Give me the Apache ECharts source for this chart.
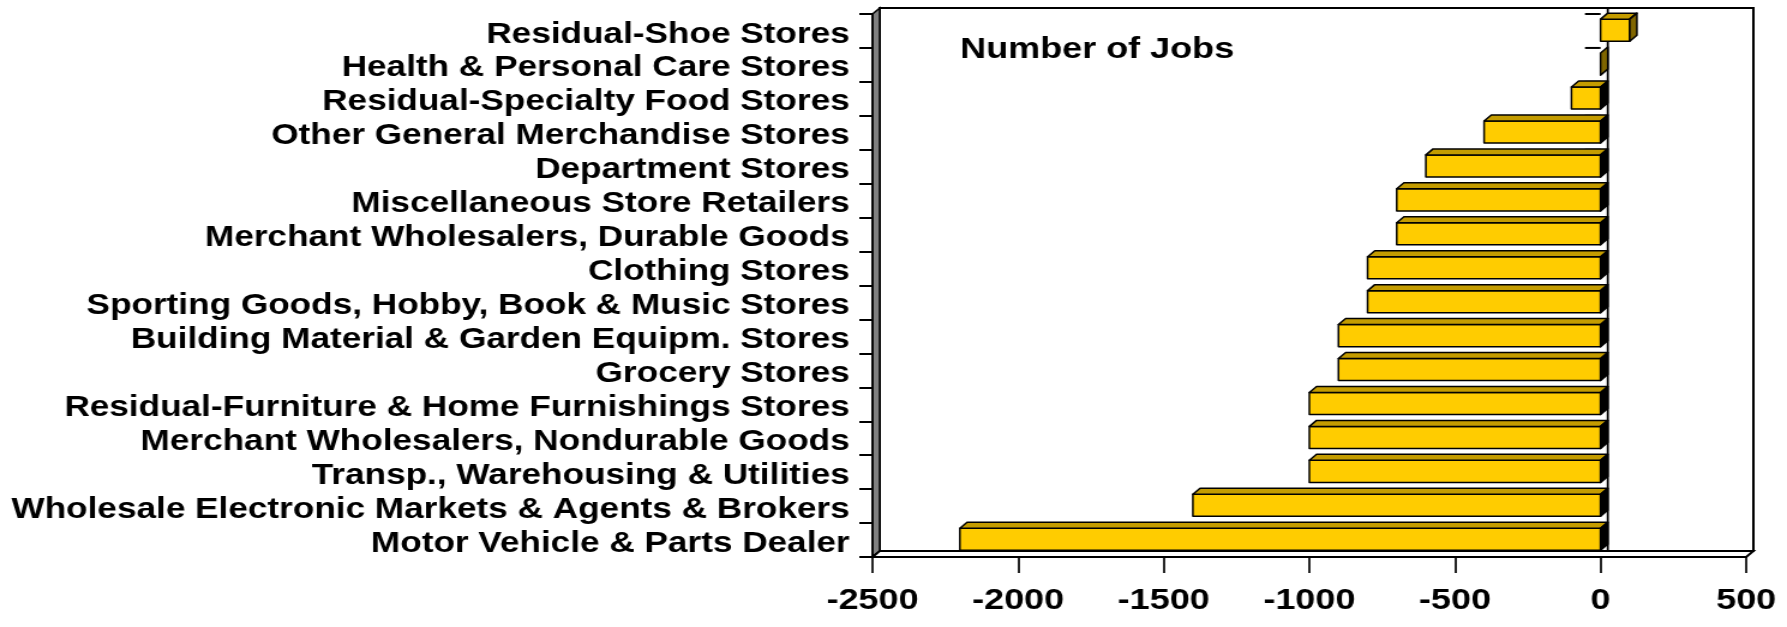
<!DOCTYPE html>
<html><head><meta charset="utf-8">
<script src="https://cdn.jsdelivr.net/npm/echarts@6/dist/echarts.min.js"></script>
<style>
html,body{margin:0;padding:0;background:#fff;overflow:hidden;width:1787px;height:627px;}
#wrap{width:1787px;height:627px;overflow:hidden;}
#chart{width:1489px;height:627px;transform:scaleX(1.20013);transform-origin:0 0;}
</style></head><body>
<div id="wrap"><div id="chart"></div></div>
<script>
// ---- data ----
const categories = [
  'Residual-Shoe Stores',
  'Health & Personal Care Stores',
  'Residual-Specialty Food Stores',
  'Other General Merchandise Stores',
  'Department Stores',
  'Miscellaneous Store Retailers',
  'Merchant Wholesalers, Durable Goods',
  'Clothing Stores',
  'Sporting Goods, Hobby, Book & Music Stores',
  'Building Material & Garden Equipm. Stores',
  'Grocery Stores',
  'Residual-Furniture & Home Furnishings Stores',
  'Merchant Wholesalers, Nondurable Goods',
  'Transp., Warehousing & Utilities',
  'Wholesale Electronic Markets & Agents & Brokers',
  'Motor Vehicle & Parts Dealer'
];
const jobs = [100, 0, -100, -400, -600, -700, -700, -800, -800, -900, -900, -1000, -1000, -1000, -1400, -2200];
const xMin = -2500, xMax = 500, xStep = 500;
const titleText = 'Number of Jobs';

// ---- chart ----
const FONT = "'Liberation Sans', Arial, sans-serif";
const D = 6; // pseudo-3D depth
const FRONT = '#FFCC00', TOP = '#C49C00', SIDE_POS = '#806600', SIDE_NEG = '#000000';

function renderFrame(params, api) {
  const cs = params.coordSys;
  const x0 = cs.x, x1 = cs.x + cs.width, y0 = cs.y, y1 = cs.y + cs.height;
  const z0 = api.coord([0, 0])[0];
  const n = categories.length;
  const children = [
    {type: 'rect', shape: {x: x0 + D, y: y0 - D, width: cs.width, height: cs.height},
     style: {fill: '#fff', stroke: '#000', lineWidth: 2}},
    {type: 'polygon', shape: {points: [[x0, y0], [x0 + D, y0 - D], [x0 + D, y1 - D], [x0, y1]]},
     style: {fill: '#808080', stroke: '#000', lineWidth: 1.5}},
    {type: 'polygon', shape: {points: [[x0, y1], [x0 + D, y1 - D], [x1 + D, y1 - D], [x1, y1]]},
     style: {fill: '#fff', stroke: '#000', lineWidth: 2}},
    {type: 'line', shape: {x1: z0 + D, y1: y0 - D, x2: z0 + D, y2: y1 - D},
     style: {stroke: '#000', lineWidth: 1.8}}
  ];
  for (let k = 0; k <= n; k++) {
    const y = y0 + k * cs.height / n;
    children.push({type: 'line', shape: {x1: z0 - 13, y1: y, x2: z0, y2: y},
      style: {stroke: '#000', lineWidth: 2}});
  }
  return {type: 'group', children};
}

function renderBar(params, api) {
  const v = api.value(0), idx = api.value(1);
  const p0 = api.coord([0, idx]), p1 = api.coord([v, idx]);
  const band = api.size([0, 1])[1];
  const h = band * 0.65;
  const xl = Math.min(p0[0], p1[0]), xr = Math.max(p0[0], p1[0]);
  const yc = p0[1] - 0.8;
  const yt = yc - h / 2, yb = yc + h / 2;
  const st = {stroke: '#000', lineWidth: 1.5, lineJoin: 'round'};
  const children = [];
  if (xr - xl > 0.5) {
    children.push({type: 'rect', shape: {x: xl, y: yt, width: xr - xl, height: h},
      style: Object.assign({fill: FRONT}, st)});
    children.push({type: 'polygon', shape: {points: [[xl, yt], [xl + D, yt - D], [xr + D, yt - D], [xr, yt]]},
      style: Object.assign({fill: TOP}, st)});
  }
  children.push({type: 'polygon', shape: {points: [[xr, yt], [xr + D, yt - D], [xr + D, yb - D], [xr, yb]]},
    style: Object.assign({fill: v < 0 ? SIDE_NEG : SIDE_POS}, st)});
  return {type: 'group', children};
}

const chart = echarts.init(document.getElementById('chart'), null, {renderer: 'canvas'});
chart.setOption({
  animation: false,
  backgroundColor: '#fff',
  title: {
    text: titleText, left: 795, top: 30,
    textStyle: {fontSize: 30, fontWeight: 'bold', color: '#000', fontFamily: FONT}
  },
  grid: {left: 727, right: 34, top: 14, bottom: 70, containLabel: false, outerBoundsMode: 'none'},
  xAxis: {
    type: 'value', min: xMin, max: xMax, interval: xStep, z: 5,
    splitLine: {show: false},
    axisLine: {show: true, onZero: false, lineStyle: {color: '#000', width: 2}},
    axisTick: {show: true, length: 16, lineStyle: {color: '#000', width: 1.7}},
    axisLabel: {show: true, fontSize: 30, fontWeight: 'bold', color: '#000', fontFamily: FONT, margin: 29,
      showMinLabel: true, showMaxLabel: true, formatter: v => String(v)}
  },
  yAxis: {
    type: 'category', data: categories, inverse: true, z: 5,
    axisLine: {show: true, onZero: false, lineStyle: {color: '#000', width: 1.7}},
    axisTick: {show: true, length: 11, alignWithLabel: false, lineStyle: {color: '#000', width: 2}},
    axisLabel: {show: true, interval: 0, fontSize: 29.3, fontWeight: 'bold', color: '#000', fontFamily: FONT,
      margin: 19, verticalAlign: 'top', lineHeight: 7}
  },
  series: [
    {type: 'custom', name: 'frame', z: 1, silent: true, renderItem: renderFrame,
     data: [[0, 0]], encode: {x: 0, y: 1}, clip: false},
    {type: 'custom', name: 'Number of Jobs', z: 3, renderItem: renderBar,
     data: jobs.map((v, i) => [v, i]), encode: {x: 0, y: 1}, clip: false}
  ]
});
</script>
</body></html>
